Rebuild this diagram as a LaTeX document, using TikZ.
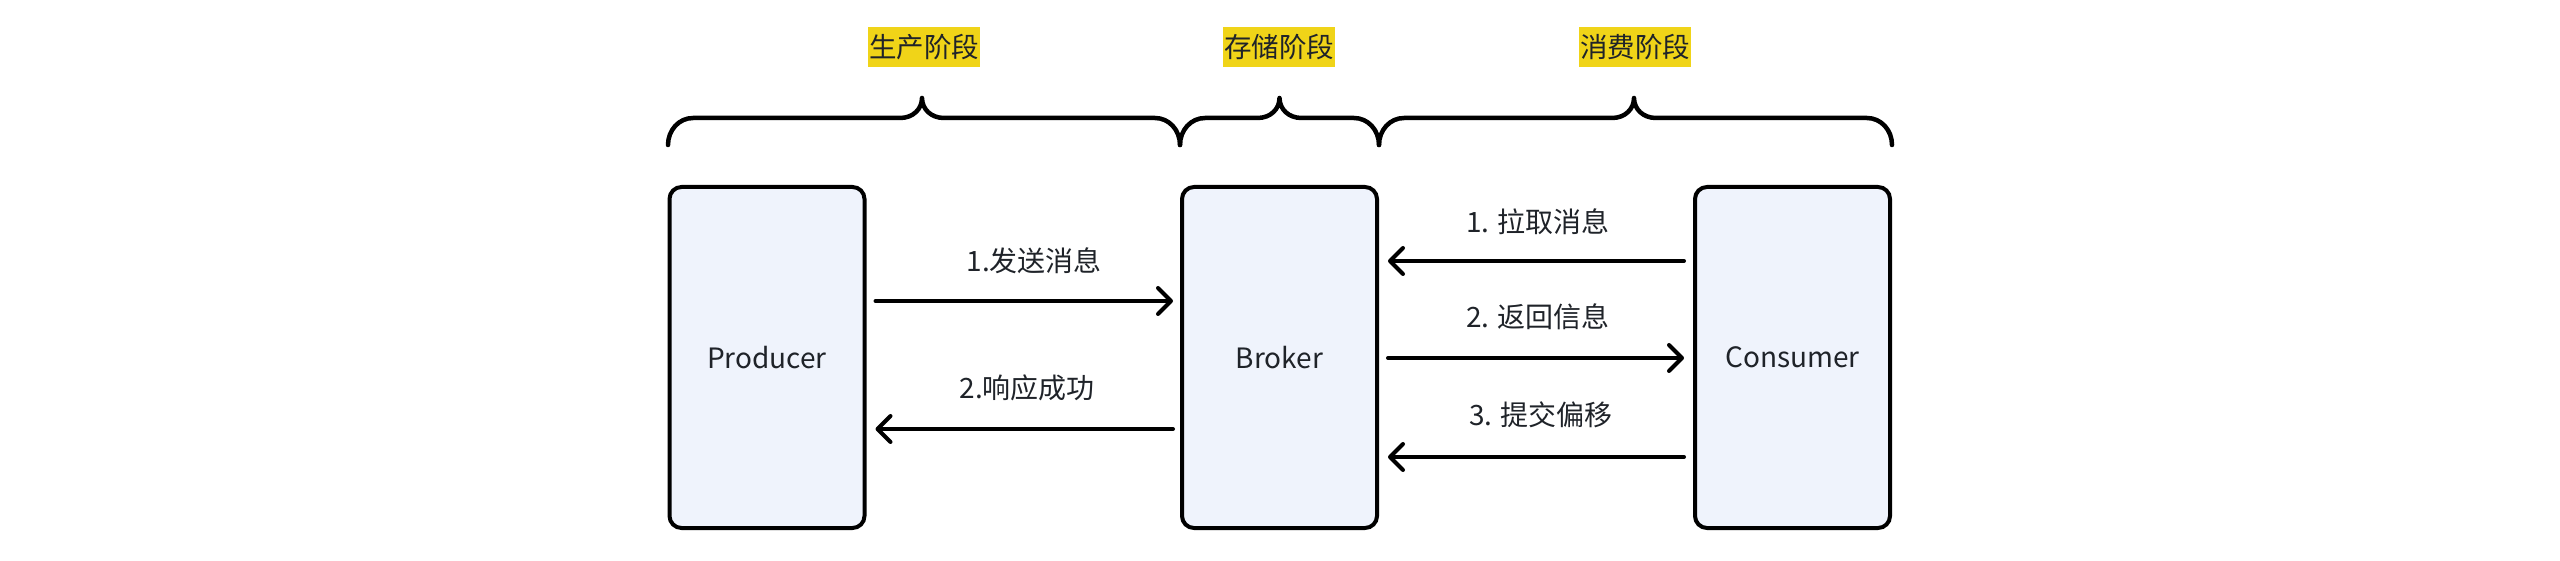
\documentclass[tikz,border=0pt]{standalone}
\usepackage{fontspec}
\setmainfont{Noto Sans CJK SC}
\usetikzlibrary{arrows.meta,calc}
\definecolor{boxfill}{RGB}{239,243,252}
\definecolor{hl}{RGB}{240,212,24}
\definecolor{txt}{RGB}{31,35,41}
\begin{document}
\begin{tikzpicture}[x=1pt,y=1pt,
  box/.style={draw=black, line width=4pt, fill=boxfill, rounded corners=12pt,
    minimum width=195pt, minimum height=341pt, inner sep=0pt,
    font=\fontsize{28}{32}\selectfont, text=txt},
  stage/.style={fill=hl, minimum width=112pt, minimum height=40pt, inner sep=0pt,
    font=\fontsize{27.5}{30}\selectfont, text=txt},
  lbl/.style={font=\fontsize{28}{32}\selectfont, text=txt, inner sep=0pt},
  arr/.style={line width=4pt, line cap=round,
    -{Straight Barb[length=13pt,width=26pt,round]}},
  curly/.style={line width=4.5pt, line cap=round, line join=round}]
\useasboundingbox (0,0) rectangle (2560,560);

% boxes
\node[box] (P) at (767,202.5) {Producer};
\node[box] (B) at (1279.5,202.5) {Broker};
\node[box] (C) at (1792.5,202.5) {Consumer};

% stage labels
\node[stage] (s1) at (924,513) {生产阶段};
\node[stage] (s2) at (1279,513) {存储阶段};
\node[stage] (s3) at (1635,513) {消费阶段};

% braces
\draw[curly] (668,415) .. controls (668,430) and (679,442) .. (693,442)
  -- (900,442) .. controls (913,442) and (922,451) .. (922,462)
  .. controls (922,451) and (931,442) .. (944,442)
  -- (1155,442) .. controls (1169,442) and (1180,430) .. (1180,415);
\draw[curly] (1180,415) .. controls (1180,430) and (1191,442) .. (1205,442)
  -- (1257.5,442) .. controls (1270.5,442) and (1279.5,451) .. (1279.5,462)
  .. controls (1279.5,451) and (1288.5,442) .. (1301.5,442)
  -- (1354,442) .. controls (1368,442) and (1379,430) .. (1379,415);
\draw[curly] (1379,415) .. controls (1379,430) and (1390,442) .. (1404,442)
  -- (1612,442) .. controls (1625,442) and (1634,451) .. (1634,462)
  .. controls (1634,451) and (1643,442) .. (1656,442)
  -- (1867,442) .. controls (1881,442) and (1892,430) .. (1892,415);

% producer <-> broker
\draw[arr] ([xshift=9pt,yshift=56.5pt]P.east) -- ([xshift=-7pt,yshift=56.5pt]B.west)
  node[lbl, pos=0.5, xshift=10pt, yshift=40pt] (a1) {1.发送消息};
\draw[arr] ([xshift=-7pt,yshift=-71.5pt]B.west) -- ([xshift=9pt,yshift=-71.5pt]P.east)
  node[lbl, pos=0.5, xshift=3pt, yshift=41pt] (a2) {2.响应成功};

% broker <-> consumer
\draw[arr] ([xshift=-9pt,yshift=96.5pt]C.west) -- ([xshift=9pt,yshift=96.5pt]B.east)
  node[lbl, pos=0.5, xshift=2pt, yshift=39pt] (b1) {1. 拉取消息};
\draw[arr] ([xshift=9pt,yshift=-0.5pt]B.east) -- ([xshift=-9pt,yshift=-0.5pt]C.west)
  node[lbl, pos=0.5, xshift=2pt, yshift=41pt] (b2) {2. 返回信息};
\draw[arr] ([xshift=-9pt,yshift=-99.5pt]C.west) -- ([xshift=9pt,yshift=-99.5pt]B.east)
  node[lbl, pos=0.5, xshift=5pt, yshift=42pt] (b3) {3. 提交偏移};
\end{tikzpicture}
\end{document}
